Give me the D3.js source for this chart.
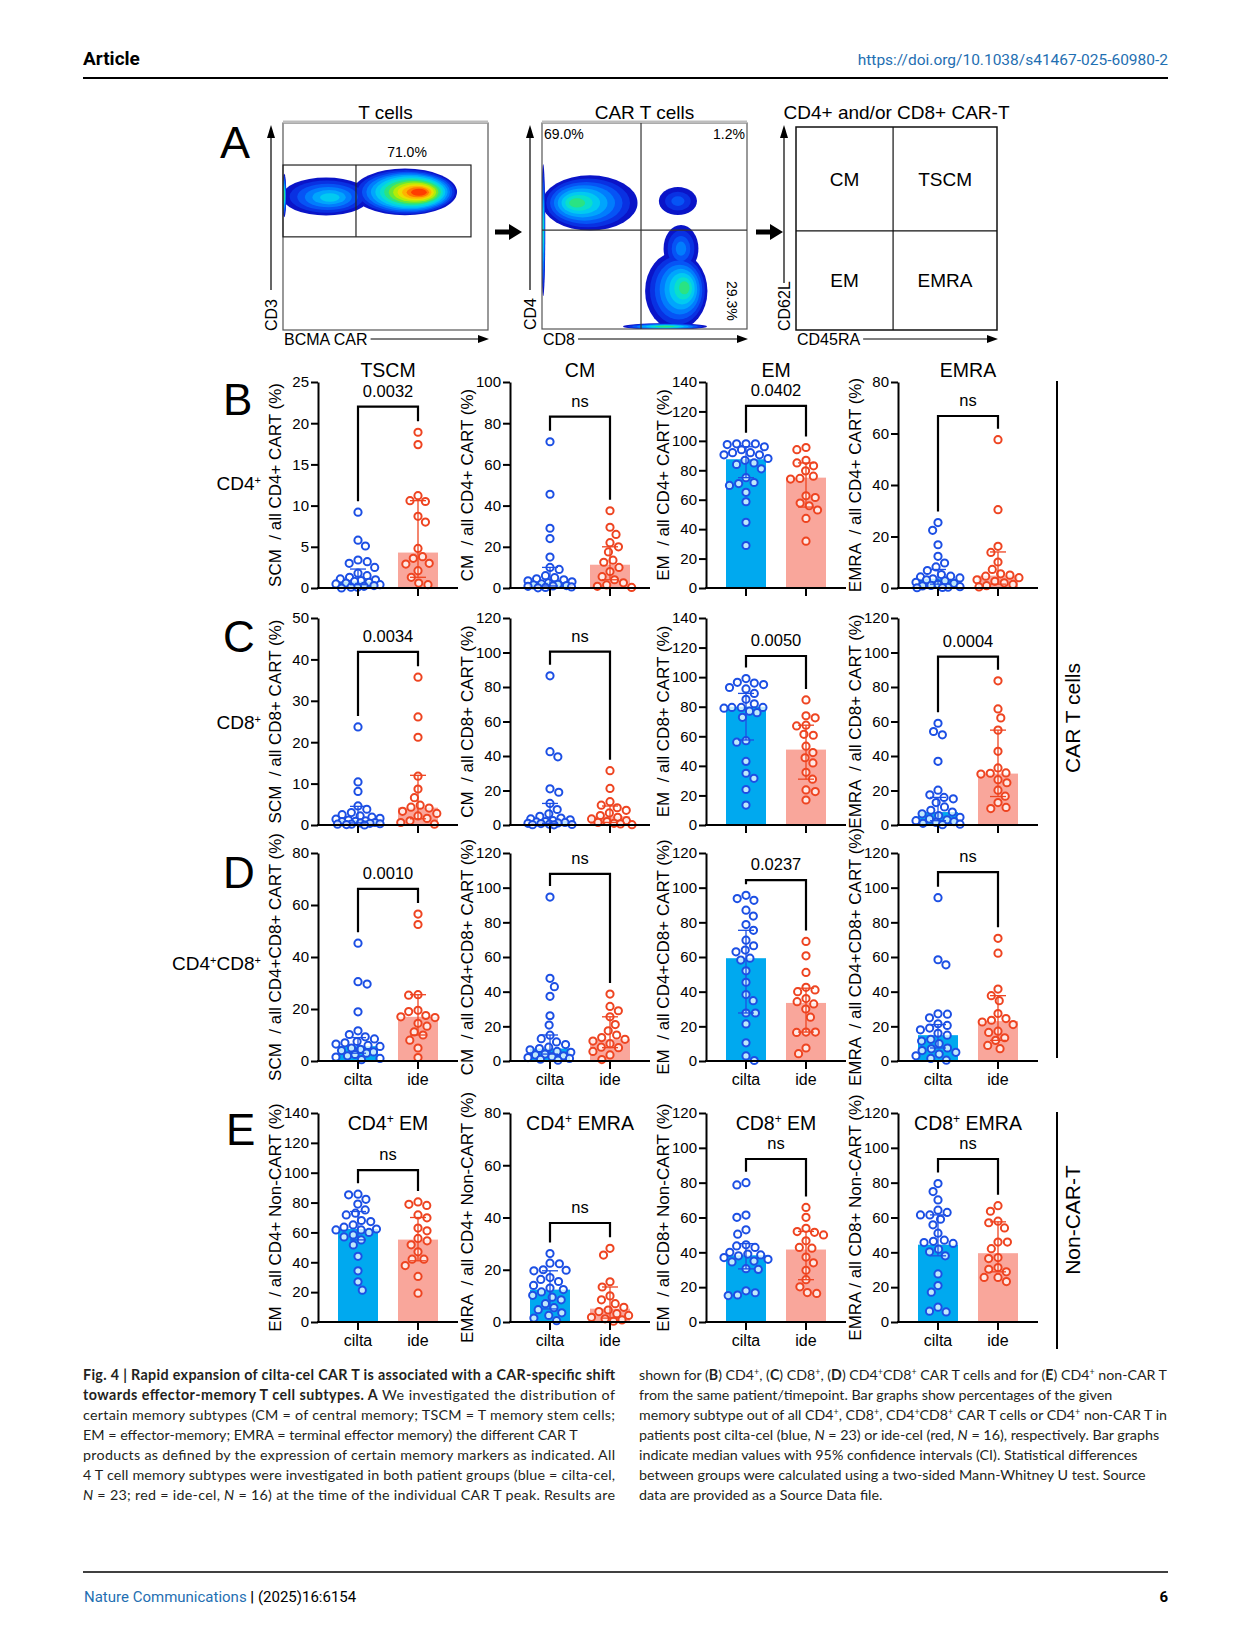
<!DOCTYPE html>
<html>
<head>
<meta charset="utf-8">
<script src="https://cdn.jsdelivr.net/npm/d3@7"></script>
<style>
  body { margin: 0; background: #fff; }
  svg text { font-family: "Liberation Sans", Arial, sans-serif; fill: #000; }
  .pre { white-space: pre; }
</style>
</head>
<body>
<svg id="fig" width="1241" height="1648"></svg>
<script>
// ---------- data ----------
const groups = ["cilta", "ide"];

// flow cytometry panel (A)
const flowTitles = ["T cells", "CAR T cells", "CD4+ and/or CD8+ CAR-T"];
const flowXLabels = ["BCMA CAR", "CD8", "CD45RA"];
const flowYLabels = ["CD3", "CD4", "CD62L"];
const subsetNames = ["CM", "TSCM", "EM", "EMRA"];
// density populations in axis units (0-100): cx, cy, rx, ry, core x/y, peak level
const tcellPops = [
  { cx: 21, cy: 64.5, rx: 21.5, ry: 9.2, kx: 23, ky: 64, peak: 0.42 },
  { cx: 59.5, cy: 66.7, rx: 25.4, ry: 11.3, kx: 66.3, ky: 66.5, peak: 1.0 },
  { cx: 0.6, cy: 65, rx: 1.0, ry: 10.5, kx: 0.6, ky: 65, peak: 0.6 }
];
const cartPops = [
  { cx: 23.4, cy: 61.2, rx: 23.2, ry: 13.4, kx: 17, ky: 61.2, peak: 0.55 },
  { cx: 66.3, cy: 62.1, rx: 9.3, ry: 6.8, kx: 66.3, ky: 62.1, peak: 0.2 },
  { cx: 67.8, cy: 39.0, rx: 8.5, ry: 11.5, kx: 67.8, ky: 39, peak: 0.28 },
  { cx: 65.5, cy: 18.5, rx: 15.2, ry: 18.8, kx: 69.5, ky: 20, peak: 0.55 },
  { cx: 60, cy: 1.2, rx: 20.5, ry: 1.6, kx: 60, ky: 1.2, peak: 0.6 },
  { cx: 0.6, cy: 48, rx: 1.0, ry: 32, kx: 0.6, ky: 48, peak: 0.5 }
];
const gateT = { x0: 0, x1: 91.7, y0: 45, y1: 79.7, split: 35.6, label: "71.0%" };
const quadCart = { x: 48.3, y: 48, ul: "69.0%", ur: "1.2%", lr: "29.3%" };
const quadSub = { x: 48.3, y: 48.8 };

// bar panels B-E (16 panels, row by row)
const b_tscm_cilta = [9.2, 5.8, 5.1, 3.4, 3.2, 3.0, 2.5, 1.8, 1.5, 1.3, 1.1, 1.0, 0.9, 0.8, 0.7, 0.6, 0.5, 0.4, 0.3, 0.2, 0.1, 0.1, 0.0];
const b_tscm_ide = [18.9, 17.4, 11.2, 10.6, 10.5, 8.7, 8.0, 4.8, 3.8, 3.6, 3.0, 2.9, 2.1, 1.3, 0.6, 0.4];
const b_cm_cilta = [71, 45.5, 29, 24, 15, 10, 9, 6, 5, 4.5, 4, 3.5, 3, 2.5, 2, 1.8, 1.5, 1.2, 1, 0.8, 0.5, 0.3, 0.1];
const b_cm_ide = [37.5, 29.5, 26, 22, 20, 17.5, 13.5, 12.5, 10, 8, 5.5, 4, 2.5, 1.5, 0.8, 0.3];
const b_em_cilta = [98, 98, 98, 97.5, 96, 94, 92, 92, 90.5, 90.5, 88, 86.8, 85, 84, 81, 75, 71.7, 71, 69.7, 65, 58.6, 44.6, 28.9];
const b_em_ide = [95.5, 94, 86.8, 85, 83, 79.6, 76, 74.5, 74, 62.7, 61.5, 57.7, 55.9, 53, 47.3, 31.8];
const b_emra_cilta = [25.4, 22.4, 16.8, 12.3, 9.7, 8.2, 6.8, 5.2, 4.6, 4.3, 3.9, 3.6, 3.2, 2.8, 2.2, 1.8, 1.4, 1.0, 0.8, 0.5, 0.3, 0.2, 0.1];
const b_emra_ide = [57.6, 30.4, 16.2, 13.8, 10.1, 7.2, 5.5, 5.0, 4.6, 4.0, 3.2, 2.6, 2.0, 1.4, 0.9, 0.4];

const c_tscm_cilta = [23.7, 10.4, 8.1, 4.6, 3.8, 3.0, 2.5, 2.2, 1.9, 1.6, 1.4, 1.2, 1.0, 0.9, 0.8, 0.6, 0.5, 0.4, 0.3, 0.2, 0.2, 0.1, 0.0];
const c_tscm_ide = [35.7, 26.1, 21.2, 11.8, 8.7, 6.6, 4.8, 4.3, 4.1, 3.3, 2.8, 2.2, 1.6, 1.0, 0.6, 0.2];
const c_cm_cilta = [86.5, 42.5, 39.5, 21, 19, 12.5, 9, 6.5, 5, 4, 3.5, 3, 2.5, 2, 1.8, 1.5, 1.2, 1, 0.8, 0.5, 0.3, 0.2, 0.1];
const c_cm_ide = [31.5, 21.2, 13.5, 11.5, 10, 8.5, 7, 5.5, 4.5, 3.5, 2.5, 2, 1.5, 1, 0.6, 0.2];
const c_em_cilta = [99, 96.5, 96, 95, 93, 92, 89, 85, 82, 79.5, 79.5, 79.5, 79, 77, 76, 72.8, 57, 56, 43, 35, 31.6, 24, 13.5];
const c_em_ide = [84.6, 73.9, 72.5, 67.5, 67, 61.3, 60.7, 53.3, 49, 45.5, 42, 35.6, 31, 23.7, 22.6, 16.9];
const c_emra_cilta = [59, 54.2, 52.3, 36.9, 20.2, 17.5, 16, 15.2, 13, 10.5, 8.5, 7.5, 6.5, 5.5, 4.5, 3.5, 3, 2.5, 2, 1.5, 1, 0.5, 0.2];
const c_emra_ide = [83.6, 67.3, 62.1, 55, 42.7, 33.1, 30.2, 30, 29.5, 26.3, 24.5, 20.2, 16.7, 13, 10.2, 9.5];

const d_tscm_cilta = [45.3, 30.5, 29.6, 18.9, 11.6, 10.2, 9.3, 8.5, 7.5, 7.0, 6.5, 6.0, 5.6, 5.0, 4.5, 4.0, 3.5, 3.0, 2.5, 2.0, 1.5, 1.0, 0.5];
const d_tscm_ide = [56.5, 52.5, 25.5, 25.3, 19.5, 19, 17.5, 17, 16.7, 14.5, 13.4, 11.2, 10, 8, 5, 1.3];
const d_cm_cilta = [94.6, 47.7, 42.9, 37.3, 26.1, 20.7, 14.9, 12.9, 11, 9.5, 8, 7.2, 6.5, 5.5, 5, 4, 3.5, 3, 2.5, 2, 1.5, 1, 0.5];
const d_cm_ide = [38.6, 31.5, 29, 25.5, 21, 17.4, 15, 13.5, 12.5, 11.5, 10, 8, 7.7, 5.5, 3.5, 0.8];
const d_em_cilta = [95.6, 93.7, 92.7, 87, 83.6, 78.7, 75.4, 69.7, 66.5, 64, 63, 59.3, 58.2, 52, 45.4, 38.3, 34.8, 27.7, 27.7, 21.4, 10.5, 2.9, 0.3];
const d_em_ide = [69, 60.7, 51.1, 42.5, 41, 40, 36, 34.2, 32.9, 30, 25.3, 16.7, 16.7, 16.5, 7.5, 4.2];
const d_emra_cilta = [94.2, 58.4, 55.5, 27.2, 27, 24.9, 21.5, 20.5, 19, 18, 16, 14.9, 12.5, 11.5, 10, 7.5, 7, 6, 5, 4, 3, 1.5, 0.5];
const d_emra_ide = [70.8, 62.2, 41.5, 37.7, 34.8, 27.4, 24.5, 23.5, 22.5, 21, 17.2, 16.5, 13.4, 11.9, 9, 7.1];

const e_cd4em_cilta = [85.6, 85.2, 82.2, 79, 75.1, 72.9, 71.7, 68, 67.3, 65, 63.5, 62.3, 61.7, 61.7, 60, 58.3, 57, 55, 51.6, 44, 34.3, 26.9, 21.3];
const e_cd4em_ide = [80.4, 78.8, 78.1, 71.7, 69.8, 62.9, 61.1, 56, 54.4, 51.7, 47, 42.1, 42.1, 37.8, 30.5, 19.3];
const e_cd4emra_cilta = [26.2, 22.5, 22.3, 20, 19.8, 19.6, 17, 16.3, 15.5, 14, 13, 12.4, 11.5, 10.2, 9.5, 8.5, 7, 5.5, 4.7, 3.5, 2.5, 1.5, 0.5];
const e_cd4emra_ide = [28.2, 25.6, 15.4, 13.4, 10, 8.5, 7, 5.6, 4.6, 4, 3.2, 2.5, 1.8, 1.2, 0.8, 0.3];
const e_cd8em_cilta = [80, 78.7, 61.4, 60.1, 52.9, 50.4, 44.3, 43.7, 42.8, 40, 39, 38.5, 38, 37, 36, 35, 34.5, 30.6, 30.2, 17.9, 16.8, 15.5, 15.2];
const e_cd8em_ide = [65.8, 60.1, 53.8, 51.9, 51.5, 50, 46.6, 42.8, 42.4, 37.3, 34, 29.7, 24.3, 20.2, 16.9, 16.4];
const e_cd8emra_cilta = [79.5, 74.9, 70.1, 64.2, 62.9, 61.5, 61.5, 59, 55.8, 51, 47, 46.3, 45.6, 45.1, 41.8, 40.3, 38, 27.6, 20.9, 17.1, 8.5, 6.2, 5.8];
const e_cd8emra_ide = [66.8, 63.6, 57.9, 57, 54, 45.9, 45.9, 42.1, 37, 36.4, 31.3, 30.3, 28.8, 25.6, 25.6, 23.2];

// medians (bar heights) and 95% CI, one entry per panel
const medianCilta = [0.8, 3.0, 87.5, 3.6, 1.2, 2.5, 80, 7.5, 5.7, 7.2, 59.3, 14.9, 62.3, 12.4, 38.3, 44.4];
const medianIde = [4.3, 11.3, 75, 4.8, 4.2, 5, 51, 29.8, 17, 12.5, 33.5, 23, 55.2, 5.1, 41.6, 39.5];
const ciCilta = [[0.4, 2.3], [1.0, 10], [75, 96], [1.5, 7.2], [0.5, 4.5], [1, 12.5], [57.5, 89], [2.5, 16],
                 [3, 9], [4, 15], [27.7, 75.4], [7.5, 21], [55, 74], [5, 19.6], [30.5, 45], [38, 61.5]];
const ciIde = [[1.3, 10.6], [4, 20], [55, 85], [1.5, 14], [1.5, 12], [1.5, 11], [31, 67.5], [16.5, 55],
               [10, 25.5], [7.7, 25.5], [16.7, 42], [11.9, 37.7], [41, 70], [1.5, 13.4], [24.3, 52], [28.8, 57.5]];

const yMax = [25, 100, 140, 80, 50, 120, 140, 120, 80, 120, 120, 120, 140, 80, 120, 120];
const yStep = [5, 20, 20, 20, 10, 20, 20, 20, 20, 20, 20, 20, 20, 20, 20, 20];
const pLabels = ["0.0032", "ns", "0.0402", "ns", "0.0034", "ns", "0.0050", "0.0004",
                 "0.0010", "ns", "0.0237", "ns", "ns", "ns", "ns", "ns"];
const bracketTop = [22, 83.2, 123.8, 66.8, 41.8, 100.5, 114.3, 97.6, 66.2, 107.9, 104.4, 109, 101.8, 37.9, 93.6, 93.6];
const panelTitles = ["TSCM", "CM", "EM", "EMRA", "", "", "", "", "", "", "", "",
                     "CD4^+ EM", "CD4^+ EMRA", "CD8^+ EM", "CD8^+ EMRA"];
const yLabels = [
  "SCM  / all CD4+ CART (%)", "CM  / all CD4+ CART (%)", "EM  / all CD4+ CART (%)", "EMRA  / all CD4+ CART (%)",
  "SCM  / all CD8+ CART (%)", "CM  / all CD8+ CART (%)", "EM  / all CD8+ CART (%)", "EMRA  / all CD8+ CART (%)",
  "SCM  / all CD4+CD8+ CART (%)", "CM  / all CD4+CD8+ CART (%)", "EM  / all CD4+CD8+ CART (%)", "EMRA  / all CD4+CD8+ CART (%)",
  "EM  / all CD4+ Non-CART (%)", "EMRA  / all CD4+ Non-CART (%)", "EM  / all CD8+ Non-CART (%)", "EMRA / all CD8+ Non-CART (%)"
];
const rowLetters = ["B", "C", "D", "E"];
const rowNames = ["CD4^+", "CD8^+", "CD4^+CD8^+", ""];

const panelValues = [
  [b_tscm_cilta, b_tscm_ide], [b_cm_cilta, b_cm_ide], [b_em_cilta, b_em_ide], [b_emra_cilta, b_emra_ide],
  [c_tscm_cilta, c_tscm_ide], [c_cm_cilta, c_cm_ide], [c_em_cilta, c_em_ide], [c_emra_cilta, c_emra_ide],
  [d_tscm_cilta, d_tscm_ide], [d_cm_cilta, d_cm_ide], [d_em_cilta, d_em_ide], [d_emra_cilta, d_emra_ide],
  [e_cd4em_cilta, e_cd4em_ide], [e_cd4emra_cilta, e_cd4emra_ide], [e_cd8em_cilta, e_cd8em_ide], [e_cd8emra_cilta, e_cd8emra_ide]
];

// caption lines (*bold*, _italic_, ^+ superscript)
const captionLeft = [
  "*Fig. 4 | Rapid expansion of cilta-cel CAR T is associated with a CAR-specific shift*",
  "*towards effector-memory T cell subtypes. A* We investigated the distribution of",
  "certain memory subtypes (CM = of central memory; TSCM = T memory stem cells;",
  "EM = effector-memory; EMRA = terminal effector memory) the different CAR T",
  "products as defined by the expression of certain memory markers as indicated. All",
  "4 T cell memory subtypes were investigated in both patient groups (blue = cilta-cel,",
  "_N_ = 23; red = ide-cel, _N_ = 16) at the time of the individual CAR T peak. Results are"
];
const justifyLeft = [true, true, true, false, true, true, true];
const captionRight = [
  "shown for (*B*) CD4^+, (*C*) CD8^+, (*D*) CD4^+CD8^+ CAR T cells and for (*E*) CD4^+ non-CAR T",
  "from the same patient/timepoint. Bar graphs show percentages of the given",
  "memory subtype out of all CD4^+, CD8^+, CD4^+CD8^+ CAR T cells or CD4^+ non-CAR T in",
  "patients post cilta-cel (blue, _N_ = 23) or ide-cel (red, _N_ = 16), respectively. Bar graphs",
  "indicate median values with 95% confidence intervals (CI). Statistical differences",
  "between groups were calculated using a two-sided Mann-Whitney U test. Source",
  "data are provided as a Source Data file."
];

// ---------- drawing ----------
const svg = d3.select("#fig");
svg.append("rect").attr("width", 1241).attr("height", 1648).attr("fill", "#fff");

const fillCol = { cilta: "#00a9ef", ide: "#f9a69b" };
const lineCol = { cilta: "#1c4fe4", ide: "#ee4421" };

// adds text with *bold*, _italic_ and ^+ superscripts
function rich(sel, str, supSize) {
  str.split(/(\*[^*]+\*|_[^_]+_|\^\+)/).filter(s => s !== "").forEach(p => {
    if (p === "^+") sel.append("tspan").attr("baseline-shift", "super").attr("font-size", supSize).text("+");
    else if (p[0] === "*") sel.append("tspan").attr("font-weight", 700).text(p.slice(1, -1));
    else if (p[0] === "_") sel.append("tspan").attr("font-style", "italic").text(p.slice(1, -1));
    else sel.append("tspan").text(p);
  });
  return sel;
}

// header
svg.append("text").attr("x", 83).attr("y", 65)
  .style("font-family", "Roboto").attr("font-weight", 700).attr("font-size", 19).text("Article");
svg.append("text").attr("x", 1168).attr("y", 65).attr("text-anchor", "end")
  .style("font-family", "Roboto").style("fill", "#1f6fb2").attr("font-size", 15.5)
  .text("https://doi.org/10.1038/s41467-025-60980-2");
svg.append("line").attr("x1", 83).attr("x2", 1168).attr("y1", 78).attr("y2", 78)
  .attr("stroke", "#000").attr("stroke-width", 2);

// ---------- panel A ----------
const jet = d3.interpolateRgbBasis(["#0a14c8", "#0a3cf0", "#0078ff", "#00b4ff", "#00e6e6",
                                    "#28e070", "#a0f000", "#ffe600", "#ff9600", "#ff3c00"]);
const flowBoxes = [
  { x0: 283, x1: 488, y0: 123, y1: 330, pops: tcellPops, grey: true },
  { x0: 542, x1: 747, y0: 123, y1: 329, pops: cartPops, grey: true },
  { x0: 796, x1: 997, y0: 127, y1: 330, pops: [], grey: false }
];
const yArrowTop = [290, 290, 283];

svg.append("text").attr("x", 220).attr("y", 158).attr("font-size", 45).text("A");

flowBoxes.forEach((b, i) => {
  const x = d3.scaleLinear().domain([0, 100]).range([b.x0, b.x1]);
  const y = d3.scaleLinear().domain([0, 100]).range([b.y1, b.y0]);
  const g = svg.append("g");

  // density contours as nested ellipses, level by level
  svg.append("clipPath").attr("id", "flowclip" + i).append("rect")
    .attr("x", b.x0).attr("y", b.y0).attr("width", b.x1 - b.x0).attr("height", b.y1 - b.y0);
  const dg = g.append("g").attr("clip-path", `url(#flowclip${i})`);
  const N = 14;
  for (let L = 0; L < N; L++) {
    const t = L / (N - 1);
    b.pops.forEach(p => {
      if (t > p.peak + 1e-6) return;
      const f = t / p.peak;
      const s = 1 - 0.85 * f;
      dg.append("ellipse")
        .attr("cx", x(p.cx + (p.kx - p.cx) * f))
        .attr("cy", y(p.cy + (p.ky - p.cy) * f))
        .attr("rx", Math.abs(x(p.rx * s) - x(0)))
        .attr("ry", Math.abs(y(0) - y(p.ry * s)))
        .attr("fill", jet(t));
    });
  }

  // frame
  g.append("rect").attr("x", b.x0).attr("y", b.y0).attr("width", b.x1 - b.x0).attr("height", b.y1 - b.y0)
    .attr("fill", "none").attr("stroke", b.grey ? "#555" : "#111").attr("stroke-width", b.grey ? 1.2 : 1.5);
  if (b.grey) {
    g.append("line").attr("x1", b.x0).attr("x2", b.x1).attr("y1", b.y0 - 1).attr("y2", b.y0 - 1)
      .attr("stroke", "#bdbdbd").attr("stroke-width", 3);
  }

  // title
  g.append("text").attr("x", (b.x0 + b.x1) / 2).attr("y", 119).attr("text-anchor", "middle")
    .attr("font-size", 19).text(flowTitles[i]);

  // y arrow + label
  const ax = b.x0 - 12;
  g.append("line").attr("x1", ax).attr("x2", ax).attr("y1", yArrowTop[i]).attr("y2", 136)
    .attr("stroke", "#000").attr("stroke-width", 1.2);
  g.append("path").attr("d", `M${ax - 4},${138} L${ax},${125} L${ax + 4},${138} Z`).attr("fill", "#000");
  g.append("text").attr("transform", `translate(${ax + 6},${b.y1 + 1}) rotate(-90)`)
    .attr("font-size", 16).text(flowYLabels[i]);

  // x arrow + label
  const xl = g.append("text").attr("x", b.x0 + 1).attr("y", 345).attr("font-size", 16).text(flowXLabels[i]);
  const lw = xl.node().getComputedTextLength();
  g.append("line").attr("x1", b.x0 + lw + 4).attr("x2", b.x1 - 8).attr("y1", 339).attr("y2", 339)
    .attr("stroke", "#000").attr("stroke-width", 1.2);
  g.append("path").attr("d", `M${b.x1 - 10},335 L${b.x1 + 1},339 L${b.x1 - 10},343 Z`).attr("fill", "#000");

  if (i === 0) {
    g.append("rect").attr("x", x(gateT.x0)).attr("y", y(gateT.y1))
      .attr("width", x(gateT.x1) - x(gateT.x0)).attr("height", y(gateT.y0) - y(gateT.y1))
      .attr("fill", "none").attr("stroke", "#222").attr("stroke-width", 1.2);
    g.append("line").attr("x1", x(gateT.split)).attr("x2", x(gateT.split))
      .attr("y1", y(gateT.y1)).attr("y2", y(gateT.y0)).attr("stroke", "#222").attr("stroke-width", 1.2);
    g.append("text").attr("x", 407).attr("y", 157).attr("text-anchor", "middle").attr("font-size", 14)
      .text(gateT.label);
  }
  if (i === 1) {
    g.append("line").attr("x1", x(quadCart.x)).attr("x2", x(quadCart.x)).attr("y1", b.y0).attr("y2", b.y1)
      .attr("stroke", "#333").attr("stroke-width", 1.2);
    g.append("line").attr("x1", b.x0).attr("x2", b.x1).attr("y1", y(quadCart.y)).attr("y2", y(quadCart.y))
      .attr("stroke", "#333").attr("stroke-width", 1.2);
    g.append("text").attr("x", b.x0 + 2).attr("y", 139).attr("font-size", 14).text(quadCart.ul);
    g.append("text").attr("x", b.x1 - 2).attr("y", 139).attr("text-anchor", "end").attr("font-size", 14).text(quadCart.ur);
    g.append("text").attr("transform", `translate(${b.x1 - 20},${281}) rotate(90)`).attr("font-size", 14)
      .text(quadCart.lr);
  }
  if (i === 2) {
    const qx = x(quadSub.x), qy = y(quadSub.y);
    g.append("line").attr("x1", qx).attr("x2", qx).attr("y1", b.y0).attr("y2", b.y1)
      .attr("stroke", "#111").attr("stroke-width", 1.2);
    g.append("line").attr("x1", b.x0).attr("x2", b.x1).attr("y1", qy).attr("y2", qy)
      .attr("stroke", "#111").attr("stroke-width", 1.2);
    const cxs = [(b.x0 + qx) / 2, (qx + b.x1) / 2];
    const cys = [(b.y0 + qy) / 2 + 7, (qy + b.y1) / 2 + 7];
    subsetNames.forEach((s, j) => {
      g.append("text").attr("x", cxs[j % 2]).attr("y", cys[Math.floor(j / 2)])
        .attr("text-anchor", "middle").attr("font-size", 19).text(s);
    });
  }
});

// big arrows between flow plots
[495, 756].forEach(x0 => {
  svg.append("path")
    .attr("d", `M${x0},${229.5} H${x0 + 14} V${224} L${x0 + 27},${232} L${x0 + 14},${240} V${234.5} H${x0} Z`)
    .attr("fill", "#000");
});

// ---------- panels B-E ----------
const colX = [318, 510, 706, 898];
const rowY = [[382, 588], [618, 825], [853, 1061], [1113, 1322]];
const R = 3.6, D = 9.4, MAXW = 22;

// deterministic beeswarm: offsets so circles do not overlap, kept inside +-MAXW
function dodge(vals, y) {
  const placed = [];
  const order = vals.map((v, i) => i).sort((a, b) => vals[b] - vals[a]);
  order.forEach((i, n) => {
    const py = y(vals[i]);
    const cands = [0];
    placed.forEach(p => {
      const dy = Math.abs(p.y - py);
      if (dy < D) {
        const dx = Math.sqrt(D * D - dy * dy);
        cands.push(p.x + dx, p.x - dx);
      }
    });
    // alternate side preference so swarms stay symmetric
    const sgn = n % 2 ? -1 : 1;
    cands.sort((a, b) => Math.abs(a) - Math.abs(b) || sgn * (b - a));
    let cx = cands.find(c => Math.abs(c) <= MAXW &&
      placed.every(p => (p.x - c) ** 2 + (p.y - py) ** 2 >= D * D - 0.01));
    if (cx === undefined) {
      // crowded: pick the spot with the most room inside the allowed width
      let best = -1;
      for (let c = -MAXW; c <= MAXW; c += 0.5) {
        const room = d3.min(placed, p => (p.x - c) ** 2 + (p.y - py) ** 2);
        if (room > best + 1e-6 || (Math.abs(room - best) < 1e-6 && Math.abs(c) < Math.abs(cx))) { best = room; cx = c; }
      }
    }
    placed.push({ x: cx, y: py });
  });
  return placed;
}

panelValues.forEach((pair, k) => {
  const r = Math.floor(k / 4), c = k % 4;
  const ax = colX[c], top = rowY[r][0], zero = rowY[r][1];
  const y = d3.scaleLinear().domain([0, yMax[k]]).range([zero, top]);
  const x = d3.scaleBand().domain(groups).range([ax + 10, ax + 130]);
  const g = svg.append("g");
  const meds = [medianCilta[k], medianIde[k]];
  const cis = [ciCilta[k], ciIde[k]];
  const centers = groups.map(grp => x(grp) + x.bandwidth() / 2);

  // bars
  groups.forEach((grp, j) => {
    g.append("rect").attr("x", centers[j] - 20).attr("width", 40)
      .attr("y", y(meds[j])).attr("height", zero - y(meds[j])).attr("fill", fillCol[grp]);
  });

  // points
  groups.forEach((grp, j) => {
    const pts = dodge(pair[j], y);
    g.append("g").selectAll("circle").data(pts).join("circle")
      .attr("cx", d => centers[j] + d.x).attr("cy", d => d.y).attr("r", R)
      .attr("fill", "rgba(255,255,255,0.75)").attr("stroke", lineCol[grp]).attr("stroke-width", 2);
  });

  // error bars (median with 95% CI)
  groups.forEach((grp, j) => {
    const [lo, hi] = cis[j];
    const eg = g.append("g").attr("stroke", lineCol[grp]).attr("stroke-width", 1.3);
    eg.append("line").attr("x1", centers[j]).attr("x2", centers[j]).attr("y1", y(lo)).attr("y2", y(hi));
    [lo, hi].forEach(v => eg.append("line").attr("x1", centers[j] - 8).attr("x2", centers[j] + 8)
      .attr("y1", y(v)).attr("y2", y(v)));
  });

  // axes
  const yAxis = g.append("g").attr("transform", `translate(${ax},0)`)
    .call(d3.axisLeft(y).tickValues(d3.range(0, yMax[k] + 0.001, yStep[k]))
      .tickSize(7).tickSizeOuter(0).tickPadding(2).tickFormat(d3.format("d")));
  yAxis.select(".domain").attr("stroke-width", 2);
  yAxis.selectAll(".tick line").attr("stroke-width", 2);
  yAxis.selectAll(".tick text").attr("font-size", 15).style("font-family", "Liberation Sans");

  g.append("line").attr("x1", ax - 1).attr("x2", ax + 140).attr("y1", zero).attr("y2", zero)
    .attr("stroke", "#000").attr("stroke-width", 2);
  centers.forEach((cx, j) => {
    g.append("line").attr("x1", cx).attr("x2", cx).attr("y1", zero).attr("y2", zero + 8)
      .attr("stroke", "#000").attr("stroke-width", 2);
    if (r >= 2) {
      g.append("text").attr("x", cx).attr("y", zero + 24).attr("text-anchor", "middle")
        .attr("font-size", 16).text(groups[j]);
    }
  });

  // y label
  g.append("text").attr("class", "pre")
    .attr("transform", `translate(${ax - 37},${(top + zero) / 2}) rotate(-90)`)
    .attr("text-anchor", "middle").attr("font-size", 17).text(yLabels[k]);

  // significance bracket
  const bt = y(bracketTop[k]);
  const legs = pair.map(v => Math.max(bt + 3, y(d3.max(v)) - 11));
  g.append("path")
    .attr("d", `M${centers[0]},${legs[0]} V${bt} H${centers[1]} V${legs[1]}`)
    .attr("fill", "none").attr("stroke", "#000").attr("stroke-width", 2.2);
  g.append("text").attr("x", (centers[0] + centers[1]) / 2).attr("y", bt - 10)
    .attr("text-anchor", "middle").attr("font-size", 16.5).text(pLabels[k]);

  // title
  if (panelTitles[k]) {
    const ty = r === 0 ? top - 5 : top + 17;
    rich(g.append("text").attr("x", ax + 70).attr("y", ty).attr("text-anchor", "middle").attr("font-size", 19.5),
      panelTitles[k], 12);
  }
});

// row letters and names
rowLetters.forEach((L, r) => {
  const base = [415, 652, 888, 1145][r];
  svg.append("text").attr("x", r === 3 ? 226 : 223).attr("y", base).attr("font-size", 44).text(L);
  if (rowNames[r]) {
    rich(svg.append("text").attr("x", 261).attr("y", [490, 729, 970][r]).attr("text-anchor", "end")
      .attr("font-size", 19), rowNames[r], 11);
  }
});

// right side group labels
svg.append("line").attr("x1", 1057).attr("x2", 1057).attr("y1", 381).attr("y2", 1058)
  .attr("stroke", "#000").attr("stroke-width", 2);
svg.append("text").attr("transform", "translate(1080,718) rotate(-90)").attr("text-anchor", "middle")
  .attr("font-size", 21).text("CAR T cells");
svg.append("line").attr("x1", 1057).attr("x2", 1057).attr("y1", 1112).attr("y2", 1349)
  .attr("stroke", "#000").attr("stroke-width", 2);
svg.append("text").attr("transform", "translate(1080,1220) rotate(-90)").attr("text-anchor", "middle")
  .attr("font-size", 21).text("Non-CAR-T");

// ---------- caption ----------
function captionColumn(lines, x0, width, justify) {
  lines.forEach((ln, i) => {
    const t = svg.append("text").attr("class", "pre").attr("x", x0).attr("y", 1380 + i * 20)
      .style("font-family", "Lato").style("fill", "#231f20").attr("font-size", 14.3);
    rich(t, ln, 9);
    const len = t.node().getComputedTextLength();
    if (len > width || (justify && justify[i])) {
      t.attr("textLength", width).attr("lengthAdjust", len > width ? "spacingAndGlyphs" : "spacing");
    }
  });
}
captionColumn(captionLeft, 83, 532, justifyLeft);
captionColumn(captionRight, 639, 528, null);

// ---------- footer ----------
svg.append("line").attr("x1", 83).attr("x2", 1168).attr("y1", 1572).attr("y2", 1572)
  .attr("stroke", "#000").attr("stroke-width", 1.5);
const ft = svg.append("text").attr("x", 84).attr("y", 1602).style("font-family", "Roboto").attr("font-size", 15);
ft.append("tspan").style("fill", "#1f6fb2").text("Nature Communications");
ft.append("tspan").style("fill", "#000").attr("font-weight", 700).text(" | ");
ft.append("tspan").style("fill", "#000").text("(2025)16:6154");
svg.append("text").attr("x", 1168).attr("y", 1602).attr("text-anchor", "end")
  .style("font-family", "Roboto").attr("font-weight", 700).attr("font-size", 15).text("6");
</script>
</body>
</html>
